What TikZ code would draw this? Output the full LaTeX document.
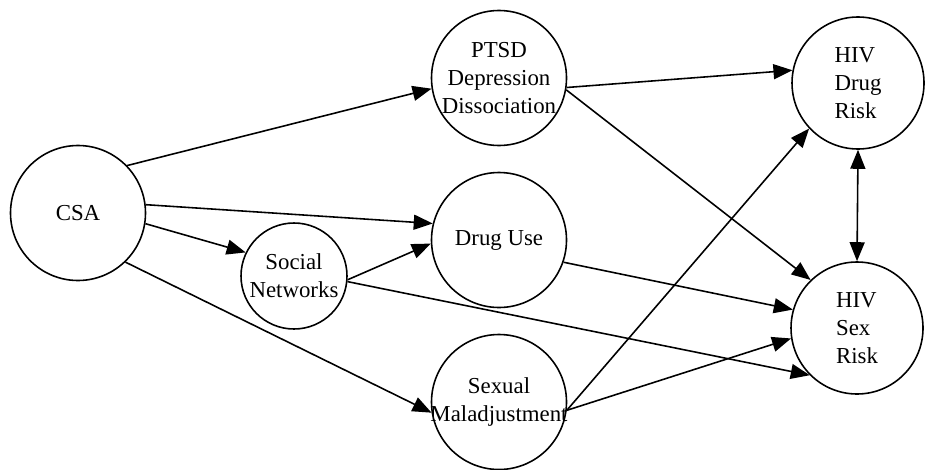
\documentclass[tikz,border=0pt]{standalone}
\usepackage{fontspec}
\setmainfont{Liberation Serif}
\usepackage{tikz}
\usetikzlibrary{positioning,shapes,arrows.meta,calc}

\begin{document}
\begin{tikzpicture}[
    factor/.style={circle, draw, line width=0.9pt, minimum size=2.7cm, inner sep=-1cm, align=center, font=\fontsize{13}{16}\selectfont},
    link/.style={line width=0.9pt, -{Triangle[length=3.8mm, width=3mm]}},
    twoway/.style={line width=0.9pt, {Triangle[length=3.8mm, width=3mm]}-{Triangle[length=3.8mm, width=3mm]}}
]
    \useasboundingbox (0,0) rectangle (18.66,-9.38);

    % Column 1 - Predictor
    \node[factor] (csa) at (1.56, -4.26) {CSA};
    \node[factor, minimum size=2.12cm] (social) at (5.88, -5.52) {Social\\Networks};

    % Column 2 - Mediators
    \node[factor] (ptsd) at (9.98, -1.56) {PTSD\\Depression\\Dissociation};
    \node[factor] (druguse) at (9.98, -4.80) {Drug Use};
    \node[factor] (sexmal) at (9.98, -8.04) {Sexual\\Maladjustment};

    % Column 3 - Outcomes
    \node[factor, minimum size=2.64cm, align=left] (hivdrug) at (17.16, -1.66) {HIV\\Drug\\Risk};
    \node[factor, minimum size=2.64cm, align=left] (hivsex) at (17.14, -6.56) {HIV\\Sex\\Risk};

    % Paths
    \draw[link] (csa.44) -- (ptsd.189);
    \draw[link] (csa.7) -- (druguse.166);
    \draw[link] (csa.-9) -- (social.154);
    \draw[link] (csa.-46) -- (sexmal.189);
    \draw[link] (social.-4) -- (druguse.183);
    \draw[link] (social.-6) -- (hivsex.225);
    \draw[link] (ptsd.-8) -- (hivdrug.169);
    \draw[link] (ptsd.-10) -- (hivsex.134);
    \draw[link] (druguse.-19) -- (hivsex.164);
    \draw[link] (sexmal.-7) -- (hivdrug.223);
    \draw[link] (sexmal.-7) -- (hivsex.189);
    \draw[twoway] (hivdrug.-90) -- (hivsex.90);
\end{tikzpicture}
\end{document}
